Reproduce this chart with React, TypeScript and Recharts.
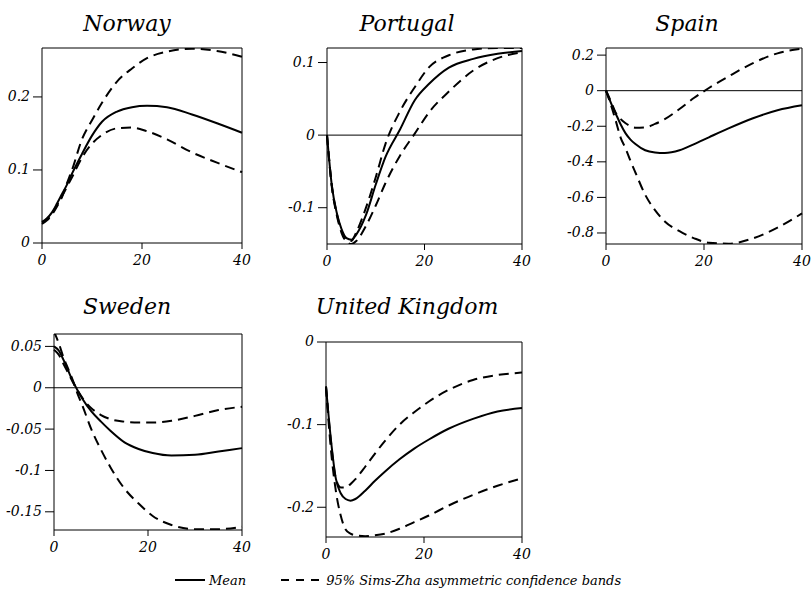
import { LineChart, Line, XAxis, YAxis, ReferenceLine } from 'recharts'

// impulse horizon (quarters)
const HORIZON = [0, 1, 2, 3, 4, 5, 6, 8, 10, 12, 15, 18, 21, 25, 30, 35, 40]
const X_TICKS = [0, 20, 40]

const norwayMean = [0.029, 0.034, 0.042, 0.054, 0.067, 0.08, 0.095, 0.122, 0.147, 0.166, 0.18, 0.186, 0.188, 0.186, 0.176, 0.164, 0.151]
const norwayUpper = [0.026, 0.031, 0.039, 0.05, 0.063, 0.082, 0.1, 0.142, 0.168, 0.192, 0.221, 0.239, 0.253, 0.262, 0.266, 0.263, 0.255]
const norwayLower = [0.028, 0.033, 0.041, 0.052, 0.064, 0.077, 0.09, 0.117, 0.136, 0.148, 0.157, 0.158, 0.153, 0.142, 0.124, 0.11, 0.097]

const portugalMean = [0, -0.07, -0.107, -0.13, -0.142, -0.144, -0.137, -0.11, -0.068, -0.03, 0.008, 0.048, 0.071, 0.093, 0.105, 0.112, 0.116]
const portugalUpper = [0, -0.07, -0.108, -0.132, -0.145, -0.146, -0.134, -0.1, -0.058, -0.012, 0.033, 0.066, 0.094, 0.11, 0.118, 0.12, 0.12]
const portugalLower = [0, -0.072, -0.11, -0.135, -0.147, -0.15, -0.146, -0.125, -0.097, -0.066, -0.028, 0.002, 0.032, 0.06, 0.089, 0.106, 0.114]

const spainMean = [0, -0.068, -0.13, -0.19, -0.24, -0.275, -0.3, -0.335, -0.347, -0.35, -0.335, -0.3, -0.262, -0.212, -0.155, -0.11, -0.082]
const spainUpper = [0, -0.06, -0.125, -0.16, -0.183, -0.2, -0.208, -0.206, -0.187, -0.16, -0.103, -0.04, 0.015, 0.08, 0.155, 0.21, 0.236]
const spainLower = [0, -0.08, -0.17, -0.265, -0.325, -0.395, -0.46, -0.585, -0.672, -0.735, -0.79, -0.83, -0.855, -0.86, -0.83, -0.77, -0.69]

const swedenMean = [0.05, 0.045, 0.034, 0.021, 0.008, -0.003, -0.013, -0.029, -0.041, -0.052, -0.066, -0.074, -0.079, -0.082, -0.081, -0.077, -0.073]
const swedenUpper = [0.046, 0.04, 0.029, 0.018, 0.007, -0.003, -0.012, -0.025, -0.033, -0.038, -0.041, -0.042, -0.042, -0.04, -0.034, -0.027, -0.023]
const swedenLower = [0.068, 0.054, 0.037, 0.023, 0.009, -0.007, -0.021, -0.051, -0.075, -0.096, -0.122, -0.14, -0.155, -0.166, -0.171, -0.171, -0.168]

const ukMean = [-0.054, -0.118, -0.165, -0.183, -0.19, -0.192, -0.19, -0.18, -0.168, -0.157, -0.142, -0.129, -0.118, -0.105, -0.093, -0.084, -0.08]
const ukUpper = [-0.054, -0.12, -0.165, -0.176, -0.176, -0.172, -0.166, -0.151, -0.135, -0.12, -0.1, -0.085, -0.072, -0.058, -0.046, -0.04, -0.037]
const ukLower = [-0.054, -0.13, -0.18, -0.21, -0.227, -0.232, -0.234, -0.235, -0.234, -0.232, -0.226, -0.218, -0.21, -0.198, -0.185, -0.174, -0.165]

const FONT = "'DejaVu Serif', serif"
const L = 50
const T = 10
const R = 14
const B = 32

type Panel = {
  title: string
  mean: number[]
  upper: number[]
  lower: number[]
  domain: [number, number]
  ticks: number[]
  zero: boolean
  left: number
  top: number
  w: number
  h: number
  titleX: number
  titleY: number
}

const panels: Panel[] = [
  { title: 'Norway', mean: norwayMean, upper: norwayUpper, lower: norwayLower, domain: [0, 0.267], ticks: [0, 0.1, 0.2], zero: false, left: 42, top: 48, w: 200, h: 195, titleX: 127, titleY: 13 },
  { title: 'Portugal', mean: portugalMean, upper: portugalUpper, lower: portugalLower, domain: [-0.15, 0.12], ticks: [-0.1, 0, 0.1], zero: true, left: 327, top: 48, w: 195, h: 196, titleX: 407, titleY: 13 },
  { title: 'Spain', mean: spainMean, upper: spainUpper, lower: spainLower, domain: [-0.862, 0.24], ticks: [-0.8, -0.6, -0.4, -0.2, 0, 0.2], zero: true, left: 606, top: 48, w: 196, h: 196, titleX: 687, titleY: 13 },
  { title: 'Sweden', mean: swedenMean, upper: swedenUpper, lower: swedenLower, domain: [-0.172, 0.065], ticks: [-0.15, -0.1, -0.05, 0, 0.05], zero: true, left: 54, top: 334, w: 188, h: 196, titleX: 127, titleY: 296 },
  { title: 'United Kingdom', mean: ukMean, upper: ukUpper, lower: ukLower, domain: [-0.236, 0], ticks: [-0.2, -0.1, 0], zero: false, left: 326, top: 342, w: 196, h: 195, titleX: 407, titleY: 296 },
]

const blackLine = { stroke: '#000', strokeWidth: 1 }
const fmt = (v: number) => (v === 0 ? '0' : String(v))

// tick en cursiva, como en el original
function ItalicTick(props: any) {
  const { x, y, payload, textAnchor, verticalAnchor } = props
  const dy = verticalAnchor === 'start' ? '0.71em' : '0.32em'
  return (
    <text x={x} y={y} dy={dy} textAnchor={textAnchor} fill="#000" fontSize={14} fontFamily={FONT} fontStyle="italic">
      {fmt(payload.value)}
    </text>
  )
}

function IrfPanel({ p }: { p: Panel }) {
  const rows = HORIZON.map((t, i) => ({ t, mean: p.mean[i], upper: p.upper[i], lower: p.lower[i] }))
  return (
    <>
      <div
        style={{
          position: 'absolute',
          left: p.titleX - 120,
          top: p.titleY,
          width: 240,
          textAlign: 'center',
          fontFamily: FONT,
          fontStyle: 'italic',
          fontSize: 22,
          lineHeight: '22px',
        }}
      >
        {p.title}
      </div>
      <div style={{ position: 'absolute', left: p.left - L, top: p.top - T }}>
        <LineChart width={L + p.w + R} height={T + p.h + B} data={rows} margin={{ top: T, right: R, left: 0, bottom: 0 }}>
          <XAxis
            dataKey="t"
            type="number"
            domain={[0, 40]}
            ticks={X_TICKS}
            height={B}
            tickSize={6}
            tickMargin={6}
            tick={<ItalicTick />}
            axisLine={blackLine}
            tickLine={blackLine}
          />
          <YAxis
            type="number"
            domain={p.domain}
            allowDataOverflow
            ticks={p.ticks}
            width={L}
            tickSize={9}
            tickMargin={3}
            tick={<ItalicTick />}
            axisLine={blackLine}
            tickLine={blackLine}
          />
          {p.zero && <ReferenceLine y={0} stroke="#000" strokeWidth={1} />}
          <ReferenceLine y={p.domain[1]} stroke="#000" strokeWidth={1} />
          <ReferenceLine x={40} stroke="#000" strokeWidth={1} />
          <Line dataKey="upper" type="monotone" stroke="#000" strokeWidth={2} strokeDasharray="10 6" dot={false} isAnimationActive={false} />
          <Line dataKey="lower" type="monotone" stroke="#000" strokeWidth={2} strokeDasharray="10 6" dot={false} isAnimationActive={false} />
          <Line dataKey="mean" type="monotone" stroke="#000" strokeWidth={2} dot={false} isAnimationActive={false} />
        </LineChart>
      </div>
    </>
  )
}

export default function App() {
  return (
    <div style={{ position: 'absolute', left: 0, top: 0, width: 812, height: 593, background: '#fff' }}>
      {panels.map((p) => (
        <IrfPanel key={p.title} p={p} />
      ))}
      {/* leyenda */}
      <div
        style={{
          position: 'absolute',
          left: 175,
          top: 572,
          height: 16,
          display: 'flex',
          alignItems: 'center',
          fontFamily: FONT,
          fontStyle: 'italic',
          fontSize: 13,
          whiteSpace: 'nowrap',
        }}
      >
        <svg width={30} height={4}>
          <line x1={0} y1={2} x2={30} y2={2} stroke="#000" strokeWidth={2} />
        </svg>
        <span style={{ marginLeft: 4 }}>Mean</span>
        <svg width={40} height={4} style={{ marginLeft: 35 }}>
          <line x1={0} y1={2} x2={40} y2={2} stroke="#000" strokeWidth={2} strokeDasharray="8 7" />
        </svg>
        <span style={{ marginLeft: 5 }}>95% Sims-Zha asymmetric confidence bands</span>
      </div>
    </div>
  )
}
